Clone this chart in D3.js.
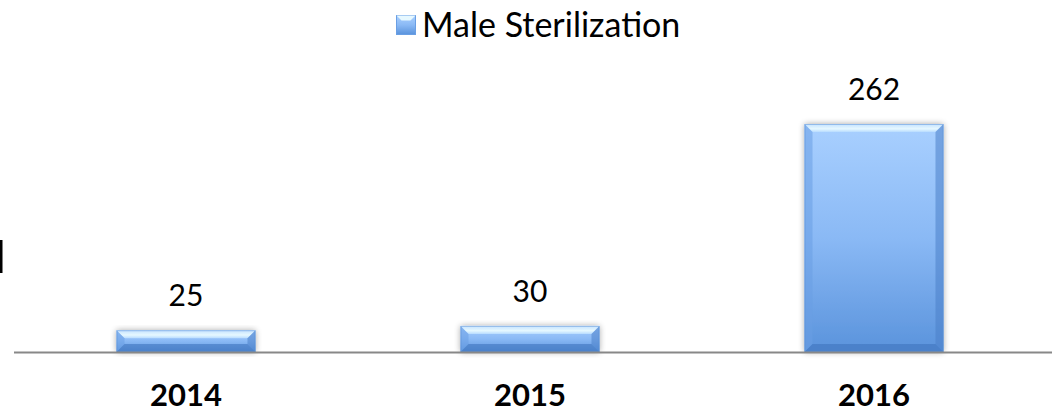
<!DOCTYPE html>
<html><head><meta charset="utf-8">
<script src="https://cdn.jsdelivr.net/npm/d3@7"></script>
<style>body{margin:0;background:#fff}svg{display:block}</style>
</head><body>
<script>
const categories = ["2014", "2015", "2016"];
const values = [25, 30, 262];
const seriesName = "Male Sterilization";

const W = 1052, H = 414;
const FONT = "Lato, 'Open Sans', sans-serif";
const svg = d3.select("body").append("svg").attr("width", W).attr("height", H);
const defs = svg.append("defs");
const g1 = defs.append("linearGradient").attr("id","barGrad").attr("x1",0).attr("y1",0).attr("x2",0).attr("y2",1);
g1.append("stop").attr("offset","0%").attr("stop-color","#a9d0ff");
g1.append("stop").attr("offset","50%").attr("stop-color","#8ab9f5");
g1.append("stop").attr("offset","100%").attr("stop-color","#5a93dc");
const gTop = defs.append("linearGradient").attr("id","topGrad").attr("x1",0).attr("y1",0).attr("x2",0).attr("y2",1);
gTop.append("stop").attr("offset","0%").attr("stop-color","#c4e2ff");
gTop.append("stop").attr("offset","60%").attr("stop-color","#e6f8ff");
gTop.append("stop").attr("offset","100%").attr("stop-color","#b8dcff");
const sh = defs.append("filter").attr("id","shadow").attr("x","-20%").attr("y","-20%").attr("width","140%").attr("height","140%");
sh.append("feGaussianBlur").attr("in","SourceAlpha").attr("stdDeviation",3);
sh.append("feOffset").attr("dx",0).attr("dy",0).attr("result","b");
sh.append("feComponentTransfer").append("feFuncA").attr("type","linear").attr("slope",0.35);
const m = sh.append("feMerge"); m.append("feMergeNode"); m.append("feMergeNode").attr("in","SourceGraphic");

const x = d3.scaleBand().domain(categories).range([14, 1046]).paddingInner(0.596).paddingOuter(0.298);
const y = d3.scaleLinear().domain([0, 262]).range([352, 124]);

// stray mark at left edge
svg.append("rect").attr("x",0).attr("y",240).attr("width",2.5).attr("height",33).attr("fill","#000");

const bev = 8;
const bars = svg.append("g").selectAll("g").data(values).join("g");
bars.append("rect")
  .attr("x",(d,i)=>x(categories[i])).attr("y",d=>y(d))
  .attr("width",x.bandwidth()).attr("height",d=>y(0)-y(d))
  .attr("fill","url(#barGrad)").attr("filter","url(#shadow)");
bars.each(function(d,i){
  const g = d3.select(this);
  const x0 = x(categories[i]), x1 = x0 + x.bandwidth(), y0 = y(d), y1 = y(0);
  const b = Math.min(bev, (y1-y0)/2);
  g.append("path").attr("d",`M${x0},${y0}L${x1},${y0}L${x1-b},${y0+b}L${x0+b},${y0+b}Z`).attr("fill","url(#topGrad)");
  g.append("path").attr("d",`M${x0},${y0}L${x0+b},${y0+b}L${x0+b},${y1-b}L${x0},${y1}Z`).attr("fill","#6a9fe4").attr("opacity",0.55);
  g.append("path").attr("d",`M${x1},${y0}L${x1},${y1}L${x1-b},${y1-b}L${x1-b},${y0+b}Z`).attr("fill","#4a7fc8").attr("opacity",0.55);
  g.append("path").attr("d",`M${x0},${y1}L${x0+b},${y1-b}L${x1-b},${y1-b}L${x1},${y1}Z`).attr("fill","#3f74be").attr("opacity",0.6);
  g.append("rect").attr("x",x0+0.5).attr("y",y0+0.5).attr("width",x1-x0-1).attr("height",y1-y0-1)
    .attr("fill","none").attr("stroke","#5a8fd6").attr("stroke-opacity",0.5).attr("stroke-width",1);
});

// axis line
svg.append("line").attr("x1",14).attr("x2",W).attr("y1",352.5).attr("y2",352.5).attr("stroke","#888").attr("stroke-width",2);

// value labels
svg.append("g").selectAll("text").data(values).join("text")
  .attr("x",(d,i)=>x(categories[i])+x.bandwidth()/2).attr("y",d=>y(d)-24)
  .attr("text-anchor","middle").attr("font-family",FONT).attr("font-size",30).attr("fill","#000")
  .text(d=>d);

// category labels
const xAxis = d3.axisBottom(x).tickSize(0).tickPadding(0);
const ax = svg.append("g").attr("transform","translate(0,406)").call(xAxis);
ax.select(".domain").remove();
ax.selectAll("text").attr("font-family",FONT).attr("font-size",31).attr("font-weight","bold").attr("fill","#000").attr("dy",0).attr("y",0);

// legend
const lg = svg.append("g");
lg.append("rect").attr("x",396.5).attr("y",15.5).attr("width",19).attr("height",19).attr("fill","url(#barGrad)").attr("stroke","#6a9fe4");
lg.append("path").attr("d","M396.5,15.5L415.5,15.5L410.5,20.5L401.5,20.5Z").attr("fill","#e6f8ff");
lg.append("text").attr("x",422).attr("y",37).attr("font-family",FONT).attr("font-size",34).attr("fill","#000").text(seriesName);
</script>
</body></html>
